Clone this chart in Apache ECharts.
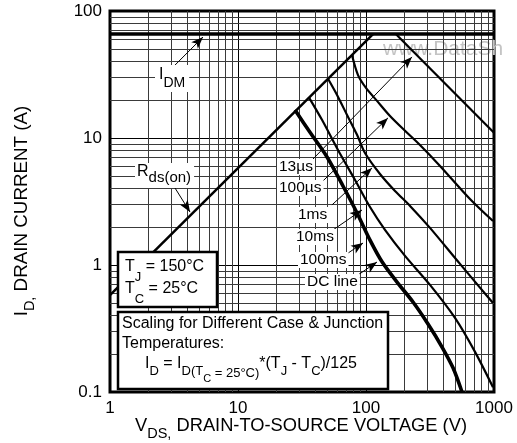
<!DOCTYPE html>
<html><head><meta charset="utf-8">
<script src="https://cdn.jsdelivr.net/npm/echarts@6/dist/echarts.min.js"></script>
<style>html,body{margin:0;padding:0;background:#fff}#c{width:517px;height:443px}</style>
</head><body><div id="c"></div>
<script>
// ---------- data ----------
const xTickLabels = ['1', '10', '100', '1000'];
const yTickLabels = ['0.1', '1', '10', '100'];
const xMinorGrid = [2,3,4,5,6,7,8,9,20,30,40,50,60,70,80,90,200,300,400,500,600,700,800,900];
const yMinorGrid = [0.2,0.3,0.4,0.5,0.6,0.7,0.8,0.9,2,3,4,5,6,7,8,9,20,30,40,50,60,70,80,90];

const idmLimit   = [[1, 66], [1000, 66]];
const rdsOnLimit = [[1, 0.58], [114, 66]];
const pulse13us  = [[171, 66], [1000, 11]];
const pulse100us = [[77.7, 45], [86.6, 31.3], [100, 24.8], [121.9, 19.6], [154, 14.9], [201.7, 11.4], [264, 8.81], [378.6, 6.03], [649, 3.31], [982, 2.22]];
const pulse1ms   = [[50.5, 29.3], [58.3, 22.6], [71.1, 15.2], [85.1, 10.6], [98.2, 7.62], [128.6, 5.21], [168.5, 3.83], [220.8, 2.92], [316.2, 1.96], [542.4, 1.02], [982, 0.502]];
const pulse10ms  = [[35.9, 20.8], [45.3, 13.9], [60.4, 8.05], [82.1, 4.67], [107.5, 2.86], [140.7, 1.89], [201.7, 1.18], [316.2, 0.697], [495.8, 0.383], [710.6, 0.207], [982, 0.109]];
const pulse100ms = [[27.9, 16.6], [36.5, 11.1], [49.6, 7.09], [66.1, 4.19], [85.1, 2.57], [107.5, 1.57], [133.4, 1.06], [174.7, 0.734], [232.9, 0.511], [305.1, 0.343], [392.6, 0.226], [478.3, 0.155], [562.3, 0.1]];
const dcLine     = [[27.9, 16.6], [36.5, 11.1], [49.6, 7.09], [66.1, 4.19], [85.1, 2.57], [107.5, 1.57], [133.4, 1.06], [174.7, 0.734], [232.9, 0.511], [305.1, 0.343], [392.6, 0.226], [478.3, 0.155], [562.3, 0.1]];

const arrow13us  = [[37.9, 6.71], [228.7, 43.5]];
const arrow100us = [[45.3, 4.51], [148.5, 14.4]];
const arrow1ms   = [[54.2, 2.97], [111.4, 5.81]];
const arrow10ms  = [[55.4, 1.89], [93.0, 2.71]];
const arrow100ms = [[72.3, 1.24], [94.8, 1.49]];
const arrowDC    = [[86.6, 0.834], [121.9, 1.056]];
const arrowIDM   = [[3.11, 36.2], [5.33, 62.4]];
const arrowRds   = [[3.22, 4.04], [4.22, 2.61]];

// ---------- helpers ----------
const FF = '"Liberation Sans", Arial, Helvetica, sans-serif';
const ctx = document.createElement('canvas').getContext('2d');
function tw(t, s) { ctx.font = s + 'px ' + FF; return ctx.measureText(t).width; }
function rich(parts, o) {
  let w = 0; const kids = []; const z = o.z || 60;
  for (const [t, s, dy] of parts) {
    kids.push({ type: 'text', x: w, y: dy || 0, z: z, silent: true,
      style: { text: t, fontSize: s, fontFamily: FF, fill: o.color || '#000', align: 'left', verticalAlign: 'middle' } });
    w += tw(t, s);
  }
  const dx = o.center ? -w / 2 : 0;
  kids.forEach(k => k.x += dx);
  if (o.bg) kids.unshift({ type: 'rect', z: z - 1, silent: true,
    shape: { x: dx - o.bg[0], y: -o.bg[1], width: w + o.bg[0] + o.bg[2], height: o.bg[1] + o.bg[3] },
    style: { fill: '#fff' } });
  return { type: 'group', x: o.x, y: o.y, rotation: o.rot || 0, z: z, children: kids };
}
function curve(name, data, width, z) {
  return { name, type: 'line', data, showSymbol: false, symbol: 'none',
    smooth: data.length > 2 ? 0.3 : false,
    lineStyle: { color: '#000', width, join: 'round' }, z: z || 5, silent: true, animation: false };
}
const arrows = [arrow13us, arrow100us, arrow1ms, arrow10ms, arrow100ms, arrowDC, arrowIDM, arrowRds];

const chart = echarts.init(document.getElementById('c'), null, { renderer: 'canvas' });
chart.setOption({
  animation: false,
  backgroundColor: '#fff',
  grid: { left: 110, top: 11, width: 384, height: 381, show: true, borderColor: '#000', borderWidth: 3, backgroundColor: '#fff' },
  xAxis: {
    type: 'log', logBase: 10, min: 1, max: 1000,
    axisLine: { show: false }, axisTick: { show: false },
    axisLabel: { color: '#000', fontSize: 17, fontFamily: FF, margin: 8,
      formatter: v => xTickLabels[Math.round(Math.log10(v))] },
    splitLine: { show: true, lineStyle: { color: '#000', width: 1 } }
  },
  yAxis: {
    type: 'log', logBase: 10, min: 0.1, max: 100,
    axisLine: { show: false }, axisTick: { show: false },
    axisLabel: { color: '#000', fontSize: 17, fontFamily: FF, margin: 8,
      formatter: v => yTickLabels[Math.round(Math.log10(v)) + 1] },
    splitLine: { show: true, lineStyle: { color: '#000', width: 1 } }
  },
  series: [
    { type: 'line', data: [], z: 1, silent: true, animation: false,
      markLine: { silent: true, animation: false, symbol: ['none', 'none'], label: { show: false },
        lineStyle: { color: '#3a3a3a', width: 1, type: 'solid' },
        data: [...xMinorGrid.map(v => ({ xAxis: v })), ...yMinorGrid.map(v => ({ yAxis: v }))] } },
    curve('I_DM', idmLimit, 3.5),
    curve('Rds(on)', rdsOnLimit, 2.5),
    curve('13µs', pulse13us, 2.2),
    curve('100µs', pulse100us, 2.2),
    curve('1ms', pulse1ms, 2.2),
    curve('10ms', pulse10ms, 2.2),
    curve('100ms', pulse100ms, 2.2),
    curve('DC line', dcLine, 3.6),
    { type: 'line', data: [], z: 6, silent: true, animation: false,
      markLine: { silent: true, animation: false, symbol: ['none', 'arrow'], symbolSize: [7, 12], label: { show: false },
        lineStyle: { color: '#000', width: 1, type: 'solid' },
        data: arrows.map(a => [{ coord: a[0] }, { coord: a[1] }]) } }
  ],
  graphic: { elements: [
    { type: 'text', x: 383, y: 49, z: 3, silent: true, style: { text: 'www.DataSh', fontSize: 21, fontFamily: FF, fill: '#c4c4c4', verticalAlign: 'middle' } },
    rich([['I', 16, 0], ['DM', 14, 8]], { x: 159, y: 75, bg: [4, 10, 4, 17] }),
    rich([['R', 16, 0], ['ds(on)', 15, 6]], { x: 137, y: 172, bg: [2, 9, 3, 16] }),
    rich([['13µs', 15.5, 0]], { x: 279, y: 167, bg: [2, 8, 2, 8] }),
    rich([['100µs', 15.5, 0]], { x: 279, y: 188, bg: [2, 8, 2, 8] }),
    rich([['1ms', 15.5, 0]], { x: 298, y: 215, bg: [2, 8, 2, 8] }),
    rich([['10ms', 15.5, 0]], { x: 296, y: 237, bg: [2, 8, 2, 8] }),
    rich([['100ms', 15.5, 0]], { x: 300, y: 260, bg: [2, 8, 2, 8] }),
    rich([['DC line', 15.5, 0]], { x: 307, y: 282, bg: [2, 8, 2, 8] }),
    { type: 'rect', z: 55, silent: true, shape: { x: 118, y: 252, width: 99, height: 55 }, style: { fill: '#fff', stroke: '#000', lineWidth: 2.5 } },
    { type: 'rect', z: 55, silent: true, shape: { x: 118, y: 312, width: 270, height: 77 }, style: { fill: '#fff', stroke: '#000', lineWidth: 2.5 } },
    rich([['T', 16, 0], ['J', 13, 10], [' = 150°C', 16, 0]], { x: 125, y: 267 }),
    rich([['T', 16, 0], ['C', 13, 10], [' = 25°C', 16, 0]], { x: 125, y: 289 }),
    rich([['Scaling for Different Case & Junction', 16, 0]], { x: 122, y: 324 }),
    rich([['Temperatures:', 16, 0]], { x: 122, y: 344 }),
    rich([['I', 16, 0], ['D', 13, 7], [' = I', 16, 0], ['D(T', 13, 7], ['C', 11, 15], [' = 25°C)', 13, 9],
          ['*(T', 16, 0], ['J', 13, 7], [' - T', 16, 0], ['C', 13, 7], [')/125', 16, 0]], { x: 145, y: 364 }),
    rich([['V', 18.3, 0], ['DS,', 14.5, 8], [' DRAIN-TO-SOURCE VOLTAGE (V)', 18.3, 0]], { x: 301, y: 426, center: true }),
    rich([['I', 18.8, 0], ['D,', 14.5, 8], [' DRAIN CURRENT (A)', 18.8, 0]], { x: 22, y: 211, center: true, rot: Math.PI / 2 })
  ] }
});
</script></body></html>
